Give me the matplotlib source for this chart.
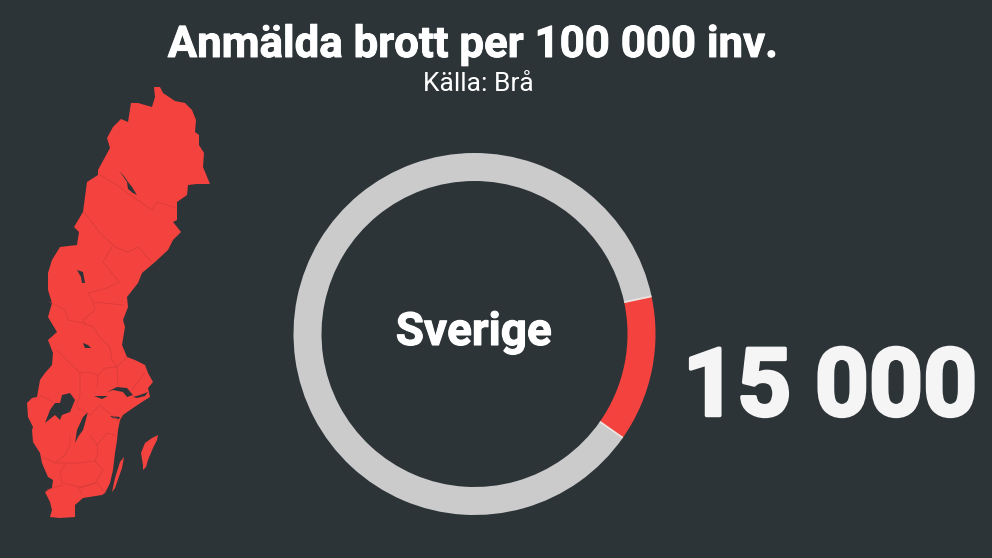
import numpy as np
import matplotlib
matplotlib.use("Agg")
import matplotlib.pyplot as plt
import matplotlib.patheffects as pe

BG = "#2d3438"
RED = "#f4423f"
GRAY = "#cbcbcb"
BORDER = "#d63c3a"

# ring values (percent of the ring that is red)
ring_values = [13.05, 86.95]
ring_colors = [RED, GRAY]
big_number = "15 000"
region = "Sverige"
title = "Anmälda brott per 100 000 inv."
source = "Källa: Brå"

# map, in pixels
sweden = [(154,87),(160,87),(163,93),(175,101),(185,103),(192,110),(196,120),(195,132),(199,135),(199,145),
          (204,153),(203,167),(210,184),(197,184),(188,185),(187,195),(177,202),(177,220),(173,222),(181,232),
          (173,240),(168,250),(155,262),(142,273),(138,283),(127,297),(128,307),(123,320),(125,327),(122,345),
          (127,357),(135,360),(145,365),(148,373),(153,382),(148,388),(150,397),(142,402),(133,408),(123,415),
          (120,420),(118,430),(117,440),(115,453),(113,470),(110,483),(105,493),(102,495),(83,498),(75,505),
          (75,517),(60,518),(50,517),(52,510),(50,502),(45,492),(52,488),(53,480),(48,477),(42,463),
          (40,453),(33,442),(32,430),(33,427),(28,417),(27,403),(32,398),(37,397),(40,380),(45,373),
          (52,365),(53,353),(48,340),(57,332),(48,317),(52,303),(48,290),(48,273),(52,260),(60,247),
          (77,245),(79,232),(74,227),(83,212),(87,182),(98,175),(98,170),(110,148),(107,138),(113,127),
          (121,119),(128,122),(131,103),(138,103),(152,107),(155,97)]
gotland = [(158,435),(152,438),(145,443),(141,453),(143,465),(143,470),(146,467),(148,460),(153,448),(157,440)]
oland = [(124,457),(120,462),(115,478),(112,492),(115,488),(122,468)]

lakes = {
    "vanern": [(62,395),(70,393),(75,400),(70,412),(62,415),(60,420),(55,415),(45,423),(50,410),(55,403),(60,403)],
    "vattern": [(88,412),(83,417),(77,430),(75,443),(78,437),(83,430),(85,423)],
    "malaren": [(107,392),(117,387),(127,388),(133,395),(127,397),(123,392),(113,390)],
    "skargard": [(133,397),(140,395),(148,392),(145,396),(137,398)],
    "hjalmaren": [(94,396),(108,396),(102,399)],
    "siljan": [(83,343),(88,345),(91,348),(85,348)],
    "storsjon": [(77,270),(83,272),(85,283),(82,283),(81,277)],
    "hornavan": [(119,171),(124,176),(128,182),(132,187),(137,195),(133,193),(128,189),(127,182),(123,176)],
    "braviken": [(110,416),(120,417),(119,419),(113,418)],
}

county_lines = [
    [(100,175),(117,185),(130,195),(152,210),(157,202),(177,208)],
    [(84,212),(100,233),(115,247),(128,252),(138,247),(152,262)],
    [(112,247),(103,262),(119,282),(107,288),(88,293),(93,302),(123,305)],
    [(93,302),(95,310),(83,320),(85,325)],
    [(50,302),(65,310),(68,320),(83,323),(93,327),(102,340),(110,347),(112,360),(117,367)],
    [(57,350),(72,365),(80,373),(88,372),(98,375),(105,368),(117,367),(127,357)],
    [(80,373),(80,395),(77,405)],
    [(98,375),(97,388)],
    [(117,367),(118,387)],
    [(145,373),(130,392)],
    [(40,395),(53,402)],
    [(78,408),(90,415),(100,405),(120,422)],
    [(43,457),(55,463),(65,455),(70,445),(70,435)],
    [(55,463),(78,463),(95,461),(98,452),(97,445),(107,433),(115,435)],
    [(90,435),(97,445)],
    [(65,465),(60,472),(62,483),(80,487),(95,483),(103,470),(95,461)],
    [(47,490),(62,485)],
    [(78,487),(82,495)],
    [(80,488),(97,483),(105,492)],
]


def fill_shape(ax, pts, color):
    xs, ys = zip(*pts)
    ax.fill(xs, ys, color=color, lw=0)


fig = plt.figure(figsize=(9.92, 5.58), dpi=100, facecolor=BG)
ax = fig.add_axes([0, 0, 1, 1])
ax.set_facecolor(BG)

# map
fill_shape(ax, sweden, RED)
fill_shape(ax, gotland, RED)
fill_shape(ax, oland, RED)
for line in county_lines:
    xs, ys = zip(*line)
    ax.plot(xs, ys, color=BORDER, lw=0.5)
for pts in lakes.values():
    fill_shape(ax, pts, BG)

# ring, the y axis is flipped so the angles run clockwise
cx, cy, r_out, r_w = 474.5, 334, 181, 28
start = -12
ax.pie(ring_values, colors=ring_colors, startangle=start, radius=r_out, center=(cx, cy),
       wedgeprops={"width": r_w, "linewidth": 0})
for a in [start, start + ring_values[0] * 3.6]:
    t = np.deg2rad(a)
    ax.plot([cx + (r_out - r_w) * np.cos(t), cx + r_out * np.cos(t)],
            [cy + (r_out - r_w) * np.sin(t), cy + r_out * np.sin(t)],
            color="#ece4e0", lw=1.3, solid_capstyle="butt")

ax.set_xlim(0, 992)
ax.set_ylim(558, 0)
ax.set_aspect("auto")
ax.axis("off")

ax.text(473, 45, title, ha="center", va="center", color="white", fontsize=31.5,
        fontfamily="Roboto", fontweight="bold",
        path_effects=[pe.withStroke(linewidth=0.7, foreground="white")])
ax.text(478, 84, source, ha="center", va="center", color="white", fontsize=19,
        fontfamily="Roboto")
ax.text(474, 332, region, ha="center", va="center", color="white", fontsize=33,
        fontfamily="Roboto", fontweight="bold",
        path_effects=[pe.withStroke(linewidth=0.8, foreground="white")])
ax.text(830, 380, big_number, ha="center", va="center_baseline", color="#f5f5f5", fontsize=68,
        fontfamily="Roboto", fontweight="bold",
        path_effects=[pe.withStroke(linewidth=2.5, foreground="#f5f5f5")])

fig.savefig("out.png", dpi=100, facecolor=BG)
